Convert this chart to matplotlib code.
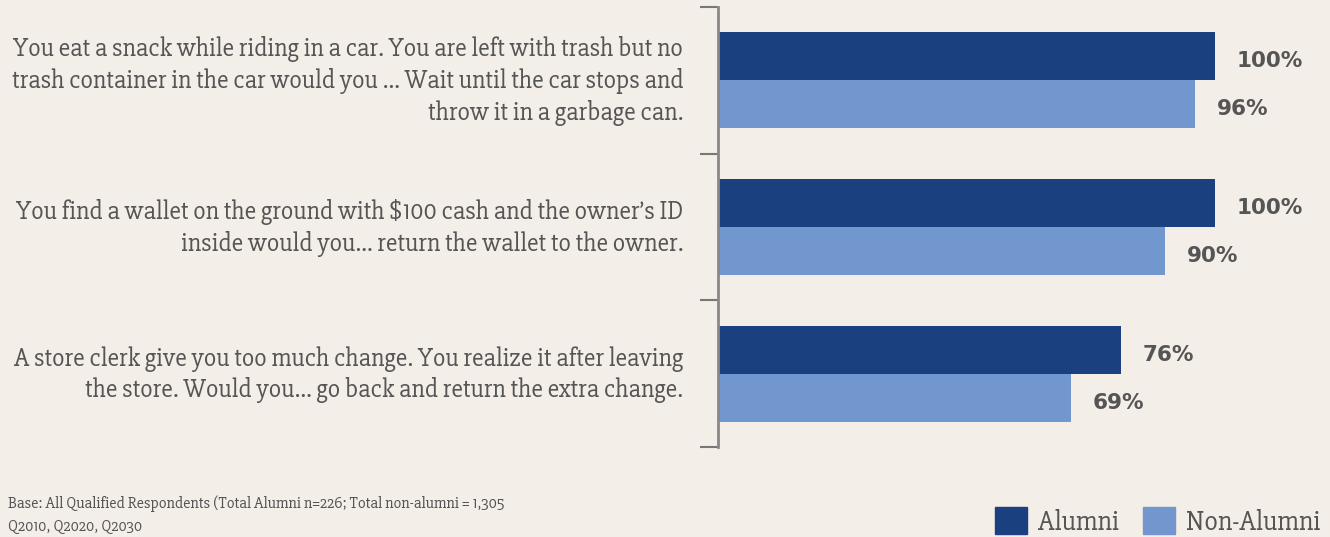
import matplotlib
matplotlib.use("Agg")
import matplotlib.pyplot as plt
from matplotlib.patches import Patch
from matplotlib.font_manager import FontProperties
from matplotlib.transforms import blended_transform_factory

categories = [
    "You eat a snack while riding in a car. You are left with trash but no\ntrash container in the car would you ... Wait until the car stops and\nthrow it in a garbage can.",
    "You find a wallet on the ground with $100 cash and the owner\u2019s ID\ninside would you\u2026 return the wallet to the owner.",
    "A store clerk give you too much change. You realize it after leaving\nthe store. Would you\u2026 go back and return the extra change.",
]
series_names = ["Alumni", "Non-Alumni"]
alumni_bar = [100, 100, 81]
non_alumni_bar = [96, 90, 71]
alumni_labels = ["100%", "100%", "76%"]
non_alumni_labels = ["96%", "90%", "69%"]
footnote = "Base: All Qualified Respondents (Total Alumni n=226; Total non-alumni = 1,305\nQ2010, Q2020, Q2030"

BG = "#F4EEE8"
C_ALUM = "#1B4080"
C_NON = "#7297CE"
TXT = "#555555"
SLAB = ["Slabo 27px", "DejaVu Serif"]

W, H = 1330, 537
fig = plt.figure(figsize=(W / 100, H / 100), dpi=100, facecolor=BG)
renderer = fig.canvas.get_renderer()


def fit_size(text, target_px, family, start=12.0):
    fp = FontProperties(family=family, size=start)
    w, h, d = renderer.get_text_width_height_descent(text, fp, ismath=False)
    return start * target_px / w


def line_spacing(size, family, target_px):
    fp = FontProperties(family=family, size=size)
    w, h, d = renderer.get_text_width_height_descent("lp", fp, ismath=False)
    return target_px / (h - d)


cat_fs = fit_size(categories[0].split("\n")[0], 667, SLAB)
cat_ls = line_spacing(cat_fs, SLAB, 25.4)
foot_fs = fit_size(footnote.split("\n")[0], 497, SLAB)
foot_ls = line_spacing(foot_fs, SLAB, 19.5)
leg_fs = fit_size(series_names[1], 135, SLAB)

ax = fig.add_axes([718 / W, 90 / H, (W - 718) / W, (447 - 7) / H])
ax.set_facecolor(BG)

n = len(categories)
ypos = list(range(n))
bh = 0.327
ax.barh([y - bh / 2 for y in ypos], alumni_bar, height=bh, color=C_ALUM, label=series_names[0])
ax.barh([y + bh / 2 for y in ypos], non_alumni_bar, height=bh, color=C_NON, label=series_names[1])

ax.set_xlim(0, (W - 718) / 4.97)
ax.set_ylim(n - 0.5, -0.5)

for y, v, t in zip(ypos, alumni_bar, alumni_labels):
    ax.annotate(t, (v, y - bh / 2), xytext=(22, -5), textcoords="offset pixels",
                ha="left", va="center", fontsize=15.5, fontweight="bold",
                color=TXT, family="DejaVu Sans")
for y, v, t in zip(ypos, non_alumni_bar, non_alumni_labels):
    ax.annotate(t, (v, y + bh / 2), xytext=(22, -5), textcoords="offset pixels",
                ha="left", va="center", fontsize=15.5, fontweight="bold",
                color=TXT, family="DejaVu Sans")

tr = blended_transform_factory(ax.transAxes, ax.transData)
for y, c in zip(ypos, categories):
    ax.annotate(c, (0, y), xycoords=tr, xytext=(683 - 718, -1), textcoords="offset pixels",
                ha="right", va="center", multialignment="right", fontsize=cat_fs,
                color=TXT, family=SLAB, linespacing=cat_ls)

for s in ["top", "right", "bottom"]:
    ax.spines[s].set_visible(False)
ax.spines["left"].set_color("#888888")
ax.spines["left"].set_linewidth(2)
ax.set_xticks([])
ax.set_yticks([y - 0.5 for y in range(n + 1)])
ax.set_yticklabels([])
ax.tick_params(axis="y", length=13, width=1.5, color="#777777", direction="out")

fig.text(8 / W, 1 - 515 / H, footnote, ha="left", va="center", fontsize=foot_fs,
         color=TXT, family=SLAB, linespacing=foot_ls)

handles = [Patch(color=C_ALUM), Patch(color=C_NON)]
em = leg_fs * 100 / 72
fig.legend(handles, series_names, loc="lower right",
           bbox_to_anchor=(1320 / W, 1 / H), ncol=2, frameon=False,
           prop={"family": SLAB, "size": leg_fs},
           handlelength=32 / em, handleheight=32 / em,
           handletextpad=11 / em,
           columnspacing=24 / em, borderpad=0, borderaxespad=0,
           labelcolor=TXT)

fig.savefig("out.png", dpi=100, facecolor=BG)
